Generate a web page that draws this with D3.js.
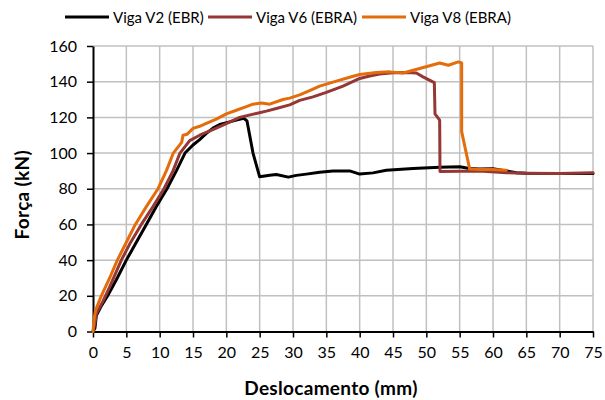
<!DOCTYPE html>
<html>
<head>
<meta charset="utf-8">
<script src="https://cdn.jsdelivr.net/npm/d3@7"></script>
<style>
  html, body { margin: 0; padding: 0; background: #fff; }
  svg { display: block; font-family: Lato, "Open Sans", sans-serif; }
</style>
</head>
<body>
<svg id="chart" width="605" height="400"></svg>
<script>
// Load–displacement curves: [displacement (mm), force (kN)]
const seriesNames = ["Viga V2 (EBR)", "Viga V6 (EBRA)", "Viga V8 (EBRA)"];
const seriesColors = ["#000000", "#953735", "#E46C0A"];

const v2 = [[0,0],[0.3,2],[0.5,9],[1.2,14],[2.2,20],[3.5,29],[5,40],[6.5,50],[8,60],[9.5,70],[11.1,80],[12.5,90],[13.8,100],[15,104.5],[16,107.5],[17,111],[18,114],[19,116],[20.5,117.5],[21.5,118.5],[22.6,119.5],[23.1,118],[24,100],[25,86.7],[26.5,87.6],[27.5,88],[29.3,86.5],[30.5,87.5],[32,88.2],[34,89.3],[36,89.9],[38.5,90],[40,88.2],[42,88.9],[44,90.4],[48,91.4],[52,92],[55,92.3],[56.5,91.3],[58,91],[60,91.2],[62,90],[63.5,89],[65,88.7],[70,88.5],[75,88.5]];

const v6 = [[0,0],[0.3,5],[0.5,10],[1.5,17],[2.5,25],[4.25,40],[5.5,49],[7.25,60],[9,70],[10.65,80],[12,90],[13.05,100],[14.5,107],[16,110],[18.5,114],[20,116.5],[22,120],[24.5,122.2],[26,123.5],[27.5,125],[29.5,127],[31,129.5],[33,131.5],[35,134],[37.5,137.5],[40,141.8],[41.5,143.2],[43,144.3],[45,145],[47,145.2],[48.5,144.9],[49.5,142.7],[51.2,139.5],[51.3,122],[52,118.4],[52.05,89.7],[55,89.8],[58,90],[62,89],[65,88.7],[70,88.6],[75,88.9]];

const v8 = [[0,0],[0.2,8],[0.4,12],[1.25,20],[2.5,30],[3.65,40],[5,50],[6.35,60],[8,70],[9.75,80],[11,90],[12.05,100],[13.3,106],[13.5,110],[14.1,110.5],[15,113.8],[16,115],[17,116.6],[18.5,119],[20,122],[21.5,124],[23,126],[24,127.4],[25.3,128],[26.5,127.4],[28.5,130],[29.5,130.8],[31,132.6],[32.5,135],[34,137.5],[36.5,140.3],[38.5,142.5],[40,144],[42.5,145.2],[44.5,145.5],[46.5,144.9],[49,147.4],[52,150.5],[53.3,149.2],[54.8,151.1],[55.3,150.5],[55.3,112],[56.5,91],[58,90.8],[60,90.8],[62,90.4]];

const xTicks = [0,5,10,15,20,25,30,35,40,45,50,55,60,65,70,75];
const yTicks = [0,20,40,60,80,100,120,140,160];
const xTitle = "Deslocamento (mm)";
const yTitle = "Força (kN)";

const svg = d3.select("#chart");
const m = { left: 93, right: 593, top: 46, bottom: 331.5 };

const x = d3.scaleLinear().domain([0, 75]).range([m.left, m.right]);
const y = d3.scaleLinear().domain([0, 160]).range([m.bottom, m.top]);

// grid
const grid = svg.append("g").attr("stroke", "#c0c0c0").attr("stroke-width", 1.5);
grid.selectAll("line.v").data(xTicks.filter(d => d > 0)).join("line")
  .attr("x1", d => x(d)).attr("x2", d => x(d))
  .attr("y1", m.top).attr("y2", m.bottom);
grid.selectAll("line.h").data(yTicks.filter(d => d > 0)).join("line")
  .attr("y1", d => y(d)).attr("y2", d => y(d))
  .attr("x1", m.left).attr("x2", m.right);

// axes
const xAxis = svg.append("g").attr("transform", `translate(0,${m.bottom})`)
  .call(d3.axisBottom(x).tickValues(xTicks).tickSize(6).tickPadding(9).tickSizeOuter(0));
const yAxis = svg.append("g").attr("transform", `translate(${m.left},0)`)
  .call(d3.axisLeft(y).tickValues(yTicks).tickSize(6).tickPadding(10).tickSizeOuter(0));
[xAxis, yAxis].forEach(a => {
  a.select(".domain").attr("stroke", "#000").attr("stroke-width", 2);
  a.selectAll(".tick line").attr("stroke", "#000").attr("stroke-width", 1.5);
  a.selectAll(".tick text").attr("fill", "#000").attr("font-size", 16)
    .attr("font-family", "Lato, sans-serif");
});

// curves
const line = d3.line().x(d => x(d[0])).y(d => y(d[1]));
const allSeries = [v2, v6, v8];
svg.append("g").selectAll("path").data(allSeries).join("path")
  .attr("d", line)
  .attr("fill", "none")
  .attr("stroke", (d, i) => seriesColors[i])
  .attr("stroke-width", 3)
  .attr("stroke-linejoin", "round")
  .attr("stroke-linecap", "round");

// axis titles
svg.append("text").attr("x", 331).attr("y", 395).attr("text-anchor", "middle")
  .attr("font-size", 19).attr("font-weight", "bold").attr("letter-spacing", 0.3)
  .attr("fill", "#000").text(xTitle);
svg.append("text").attr("transform", `translate(29,${(m.top + m.bottom) / 2 + 6}) rotate(-90)`)
  .attr("text-anchor", "middle").attr("font-size", 19).attr("font-weight", "bold")
  .attr("letter-spacing", 0.3).attr("fill", "#000").text(yTitle);

// legend
const legendX = [65, 208, 362];
const lg = svg.append("g").selectAll("g").data(seriesNames).join("g")
  .attr("transform", (d, i) => `translate(${legendX[i]},17)`);
lg.append("line").attr("x1", 0).attr("x2", 44).attr("y1", 0).attr("y2", 0)
  .attr("stroke", (d, i) => seriesColors[i]).attr("stroke-width", 3);
lg.append("text").attr("x", 48).attr("y", 5.5).attr("font-size", 15).attr("fill", "#000")
  .text(d => d);
</script>
</body>
</html>
